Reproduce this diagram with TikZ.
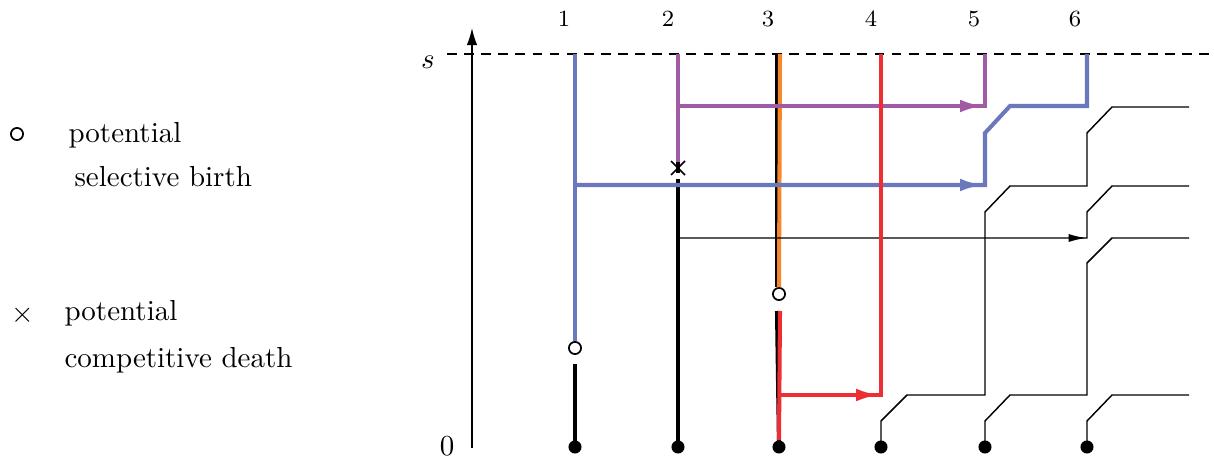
\documentclass[tikz,border=0pt]{standalone}
\usetikzlibrary{arrows.meta}
\definecolor{cblue}{RGB}{107,121,188}
\definecolor{cpurple}{RGB}{161,91,165}
\definecolor{corange}{RGB}{245,135,45}
\definecolor{cred}{RGB}{237,46,50}
\begin{document}
\begin{tikzpicture}[x=0.345pt,y=-0.345pt,
  thickline/.style={line width=1.4pt,line join=miter},
  thinline/.style={line width=0.5pt},
  carrow/.style={-{Latex[length=8.2pt,width=4.3pt]}},
  barrow/.style={-{Latex[length=6pt,width=2.8pt]}},
  dotn/.style={circle,fill=black,inner sep=0pt,minimum size=4.5pt},
  ringn/.style={circle,draw=black,line width=0.6pt,fill=white,inner sep=0pt,minimum size=4.2pt},
  lbl/.style={anchor=base west,inner sep=0pt},
  num/.style={font=\footnotesize,inner sep=0pt}]
\useasboundingbox (0,0) rectangle (1214,458);

% axis and level s
\coordinate (ax0) at (472,448);
\coordinate (ax1) at (472,28);
\draw[line width=0.45pt,-{Latex[length=5.9pt,width=3.6pt]}] (ax0) -- (ax1);
\coordinate (ds0) at (447,54);
\coordinate (ds1) at (1214,54);
\draw[line width=0.45pt,dash pattern=on 3.4pt off 2.5pt] (ds0) -- (ds1);
\node (ls) at (428,62) {$s$};
\node[inner sep=0pt] (l0) at (447,446) {$0$};

% column labels
\node[num] (n1) at (564,19) {1};
\node[num] (n2) at (668,19) {2};
\node[num] (n3) at (768,19) {3};
\node[num] (n4) at (871,19) {4};
\node[num] (n5) at (974,19) {5};
\node[num] (n6) at (1075,19) {6};

% top points
\coordinate (t1) at (575,54);
\coordinate (t2) at (678,54);
\coordinate (t3) at (780,54);
\coordinate (t4) at (881,54);
\coordinate (t5) at (985,54);
\coordinate (t6) at (1087,54);

% bottom dots
\node[dotn] (d1) at (575,447) {};
\node[dotn] (d2) at (678,447) {};
\node[dotn] (d3) at (779,447) {};
\node[dotn] (d4) at (881,447) {};
\node[dotn] (d5) at (985,447) {};
\node[dotn] (d6) at (1087,447) {};

% thin genealogical lines
\coordinate (e1) at (1189,107);
\coordinate (e2) at (1189,186);
\coordinate (e3) at (1189,238);
\coordinate (e4) at (1189,395);
\draw[thinline] (d4.center) -- (881,421) -- (907,395) -- (985,395) -- (985,212) -- (1010,186) -- (1087,186) -- (1087,133) -- (1112,107) -- (e1);
\draw[thinline] (d5.center) -- (985,421) -- (1010,395) -- (1087,395) -- (1087,263) -- (1112,238) -- (e3);
\draw[thinline] (d6.center) -- (1087,421) -- (1112,395) -- (e4);

% column 1
\node[ringn] (r1) at (575,348) {};
\coordinate (b1) at (575,364);
\draw[thickline] (d1.center) -- (b1);

% column 2
\coordinate (x2) at (678,168);
\coordinate (b2) at (678,179);
\draw[thickline] (d2.center) -- (b2);
\draw[thickline] (678,162) -- (678,173);
\draw[line width=0.5pt] (671,161) -- (685,175);
\draw[line width=0.5pt] (685,161) -- (671,175);

% column 3 (black underlay)
\node[ringn] (r3) at (779,294) {};
\coordinate (rs3) at (780,311);
\draw[thickline] (777,54) -- (777,287);
\draw[thickline] (d3.center) -- (777,311);
\draw[thickline,corange] (t3) -- (r3.north);

% thin arrow from column 2
\coordinate (a2) at (678,238);
\coordinate (a2e) at (1087,238);
\draw[thinline] (a2) -- (a2e) -- (1087,212) -- (1112,186) -- (e2);
\draw[thinline,barrow] (1082,238) -- (1086,238);

% blue
\coordinate (h1) at (575,185);
\coordinate (h1e) at (985,185);
\draw[thickline,cblue] (t1) -- (r1.north);
\draw[thickline,cblue] (h1) -- (h1e) -- (985,133) -- (1010,106) -- (1087,106) -- (t6);
\draw[thickline,cblue,carrow] (930,185) -- (984,185);

% purple
\coordinate (h2) at (678,106);
\coordinate (h2e) at (985,106);
\draw[thickline,cpurple] (t2) -- (678,162);
\draw[thickline,cpurple] (h2) -- (h2e) -- (t5);
\draw[thickline,cpurple,carrow] (930,106) -- (984,106);

% red
\coordinate (h3) at (780,395);
\coordinate (h3e) at (881,395);
\draw[thickline,cred] (rs3) -- (d3.north);
\draw[thickline,cred] (h3) -- (h3e) -- (t4);
\draw[thickline,cred,carrow] (830,395) -- (880,395);

% legend
\node[ringn] (lgr) at (17,134) {};
\node[lbl] (lg1) at (68,143) {potential};
\node[lbl] (lg2) at (74,186) {selective birth};
\node (lgx) at (23,315) {$\times$};
\node[lbl] (lg3) at (64,320) {potential};
\node[lbl] (lg4) at (64,367) {competitive death};
\end{tikzpicture}
\end{document}
